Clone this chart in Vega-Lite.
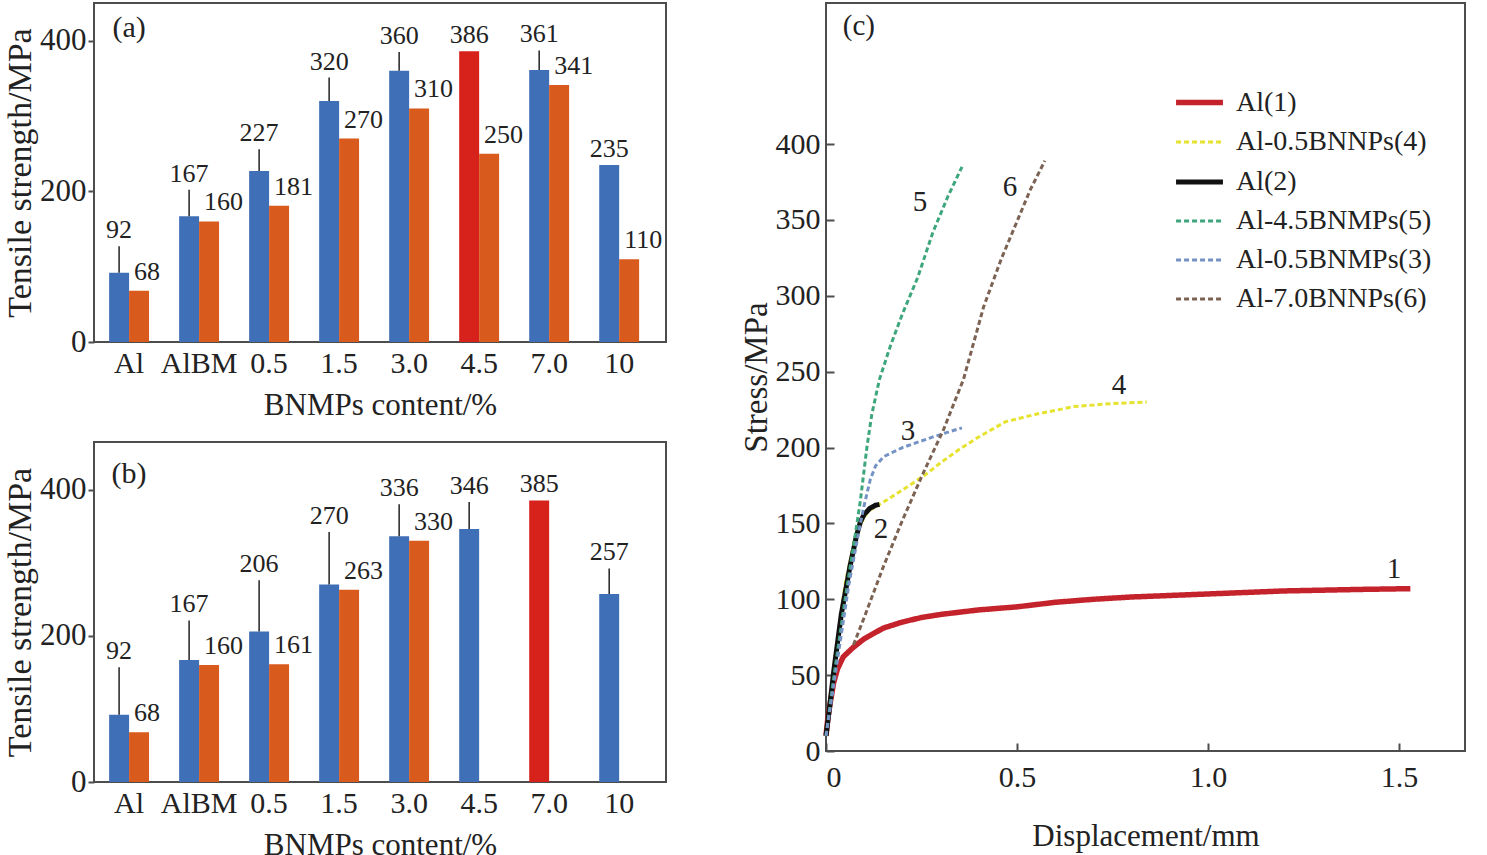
{
  "$schema": "https://vega.github.io/schema/vega-lite/v6.json",
  "padding": {"top": 2, "left": 2, "right": 5, "bottom": 0},
  "background": "white",
  "datasets": {
    "tensile": [
      {"panel": "a", "content": "Al", "series": "1", "peak": false, "value": 92, "upper": 127},
      {"panel": "a", "content": "Al", "series": "2", "peak": false, "value": 68, "upper": 68},
      {"panel": "a", "content": "AlBM", "series": "1", "peak": false, "value": 167, "upper": 202},
      {"panel": "a", "content": "AlBM", "series": "2", "peak": false, "value": 160, "upper": 160},
      {"panel": "a", "content": "0.5", "series": "1", "peak": false, "value": 227, "upper": 256},
      {"panel": "a", "content": "0.5", "series": "2", "peak": false, "value": 181, "upper": 181},
      {"panel": "a", "content": "1.5", "series": "1", "peak": false, "value": 320, "upper": 351},
      {"panel": "a", "content": "1.5", "series": "2", "peak": false, "value": 270, "upper": 270},
      {"panel": "a", "content": "3.0", "series": "1", "peak": false, "value": 360, "upper": 385},
      {"panel": "a", "content": "3.0", "series": "2", "peak": false, "value": 310, "upper": 310},
      {"panel": "a", "content": "4.5", "series": "1", "peak": true, "value": 386, "upper": 386},
      {"panel": "a", "content": "4.5", "series": "2", "peak": false, "value": 250, "upper": 250},
      {"panel": "a", "content": "7.0", "series": "1", "peak": false, "value": 361, "upper": 387},
      {"panel": "a", "content": "7.0", "series": "2", "peak": false, "value": 341, "upper": 341},
      {"panel": "a", "content": "10", "series": "1", "peak": false, "value": 235, "upper": 235},
      {"panel": "a", "content": "10", "series": "2", "peak": false, "value": 110, "upper": 110},
      {"panel": "b", "content": "Al", "series": "1", "peak": false, "value": 92, "upper": 157},
      {"panel": "b", "content": "Al", "series": "2", "peak": false, "value": 68, "upper": 68},
      {"panel": "b", "content": "AlBM", "series": "1", "peak": false, "value": 167, "upper": 221},
      {"panel": "b", "content": "AlBM", "series": "2", "peak": false, "value": 160, "upper": 160},
      {"panel": "b", "content": "0.5", "series": "1", "peak": false, "value": 206, "upper": 276},
      {"panel": "b", "content": "0.5", "series": "2", "peak": false, "value": 161, "upper": 161},
      {"panel": "b", "content": "1.5", "series": "1", "peak": false, "value": 270, "upper": 342},
      {"panel": "b", "content": "1.5", "series": "2", "peak": false, "value": 263, "upper": 263},
      {"panel": "b", "content": "3.0", "series": "1", "peak": false, "value": 336, "upper": 380},
      {"panel": "b", "content": "3.0", "series": "2", "peak": false, "value": 330, "upper": 330},
      {"panel": "b", "content": "4.5", "series": "1", "peak": false, "value": 346, "upper": 383},
      {"panel": "b", "content": "7.0", "series": "1", "peak": true, "value": 385, "upper": 385},
      {"panel": "b", "content": "10", "series": "1", "peak": false, "value": 257, "upper": 292}
    ],
    "curves": [
      {"series": "Al(1)", "x": 0, "y": 10},
      {"series": "Al(1)", "x": 0.005, "y": 22},
      {"series": "Al(1)", "x": 0.01, "y": 30},
      {"series": "Al(1)", "x": 0.02, "y": 45},
      {"series": "Al(1)", "x": 0.03, "y": 54},
      {"series": "Al(1)", "x": 0.045, "y": 62},
      {"series": "Al(1)", "x": 0.07, "y": 68},
      {"series": "Al(1)", "x": 0.1, "y": 74},
      {"series": "Al(1)", "x": 0.15, "y": 81},
      {"series": "Al(1)", "x": 0.2, "y": 85},
      {"series": "Al(1)", "x": 0.25, "y": 88},
      {"series": "Al(1)", "x": 0.3, "y": 90},
      {"series": "Al(1)", "x": 0.4, "y": 93},
      {"series": "Al(1)", "x": 0.5, "y": 95},
      {"series": "Al(1)", "x": 0.6, "y": 98},
      {"series": "Al(1)", "x": 0.7, "y": 100},
      {"series": "Al(1)", "x": 0.8, "y": 101.5},
      {"series": "Al(1)", "x": 0.9, "y": 102.5},
      {"series": "Al(1)", "x": 1.0, "y": 103.5},
      {"series": "Al(1)", "x": 1.1, "y": 104.5},
      {"series": "Al(1)", "x": 1.2, "y": 105.5},
      {"series": "Al(1)", "x": 1.3, "y": 106},
      {"series": "Al(1)", "x": 1.4, "y": 106.5},
      {"series": "Al(1)", "x": 1.53, "y": 107},
      {"series": "Al-0.5BNNPs(4)", "x": 0, "y": 10},
      {"series": "Al-0.5BNNPs(4)", "x": 0.02, "y": 55},
      {"series": "Al-0.5BNNPs(4)", "x": 0.05, "y": 110},
      {"series": "Al-0.5BNNPs(4)", "x": 0.08, "y": 145},
      {"series": "Al-0.5BNNPs(4)", "x": 0.11, "y": 158},
      {"series": "Al-0.5BNNPs(4)", "x": 0.15, "y": 164},
      {"series": "Al-0.5BNNPs(4)", "x": 0.2, "y": 172},
      {"series": "Al-0.5BNNPs(4)", "x": 0.26, "y": 182},
      {"series": "Al-0.5BNNPs(4)", "x": 0.3, "y": 190},
      {"series": "Al-0.5BNNPs(4)", "x": 0.35, "y": 199},
      {"series": "Al-0.5BNNPs(4)", "x": 0.4, "y": 207},
      {"series": "Al-0.5BNNPs(4)", "x": 0.47, "y": 217},
      {"series": "Al-0.5BNNPs(4)", "x": 0.55, "y": 222},
      {"series": "Al-0.5BNNPs(4)", "x": 0.65, "y": 227},
      {"series": "Al-0.5BNNPs(4)", "x": 0.75, "y": 229},
      {"series": "Al-0.5BNNPs(4)", "x": 0.84, "y": 230},
      {"series": "Al(2)", "x": 0, "y": 10},
      {"series": "Al(2)", "x": 0.01, "y": 30},
      {"series": "Al(2)", "x": 0.02, "y": 52},
      {"series": "Al(2)", "x": 0.04, "y": 90},
      {"series": "Al(2)", "x": 0.063, "y": 122},
      {"series": "Al(2)", "x": 0.08, "y": 142},
      {"series": "Al(2)", "x": 0.09, "y": 151},
      {"series": "Al(2)", "x": 0.1, "y": 156},
      {"series": "Al(2)", "x": 0.115, "y": 160},
      {"series": "Al(2)", "x": 0.13, "y": 162},
      {"series": "Al(2)", "x": 0.14, "y": 162.5},
      {"series": "Al-4.5BNMPs(5)", "x": 0, "y": 10},
      {"series": "Al-4.5BNMPs(5)", "x": 0.02, "y": 48},
      {"series": "Al-4.5BNMPs(5)", "x": 0.05, "y": 100},
      {"series": "Al-4.5BNMPs(5)", "x": 0.075, "y": 140},
      {"series": "Al-4.5BNMPs(5)", "x": 0.09, "y": 165},
      {"series": "Al-4.5BNMPs(5)", "x": 0.107, "y": 200},
      {"series": "Al-4.5BNMPs(5)", "x": 0.12, "y": 222},
      {"series": "Al-4.5BNMPs(5)", "x": 0.14, "y": 245},
      {"series": "Al-4.5BNMPs(5)", "x": 0.17, "y": 268},
      {"series": "Al-4.5BNMPs(5)", "x": 0.2, "y": 288},
      {"series": "Al-4.5BNMPs(5)", "x": 0.24, "y": 312},
      {"series": "Al-4.5BNMPs(5)", "x": 0.28, "y": 342},
      {"series": "Al-4.5BNMPs(5)", "x": 0.32, "y": 366},
      {"series": "Al-4.5BNMPs(5)", "x": 0.356, "y": 385},
      {"series": "Al-0.5BNMPs(3)", "x": 0, "y": 10},
      {"series": "Al-0.5BNMPs(3)", "x": 0.03, "y": 60},
      {"series": "Al-0.5BNMPs(3)", "x": 0.06, "y": 110},
      {"series": "Al-0.5BNMPs(3)", "x": 0.09, "y": 150},
      {"series": "Al-0.5BNMPs(3)", "x": 0.1, "y": 162},
      {"series": "Al-0.5BNMPs(3)", "x": 0.116, "y": 179},
      {"series": "Al-0.5BNMPs(3)", "x": 0.13, "y": 188},
      {"series": "Al-0.5BNMPs(3)", "x": 0.151, "y": 194},
      {"series": "Al-0.5BNMPs(3)", "x": 0.2, "y": 200},
      {"series": "Al-0.5BNMPs(3)", "x": 0.28, "y": 207},
      {"series": "Al-0.5BNMPs(3)", "x": 0.356, "y": 213},
      {"series": "Al-7.0BNNPs(6)", "x": 0.072, "y": 70},
      {"series": "Al-7.0BNNPs(6)", "x": 0.1, "y": 88},
      {"series": "Al-7.0BNNPs(6)", "x": 0.151, "y": 122},
      {"series": "Al-7.0BNNPs(6)", "x": 0.2, "y": 152},
      {"series": "Al-7.0BNNPs(6)", "x": 0.256, "y": 184},
      {"series": "Al-7.0BNNPs(6)", "x": 0.308, "y": 212},
      {"series": "Al-7.0BNNPs(6)", "x": 0.36, "y": 245},
      {"series": "Al-7.0BNNPs(6)", "x": 0.413, "y": 293},
      {"series": "Al-7.0BNNPs(6)", "x": 0.46, "y": 325},
      {"series": "Al-7.0BNNPs(6)", "x": 0.5, "y": 349},
      {"series": "Al-7.0BNNPs(6)", "x": 0.535, "y": 370},
      {"series": "Al-7.0BNNPs(6)", "x": 0.573, "y": 389}
    ],
    "curveLabels": [
      {"label": "1", "x": 1.487, "y": 120},
      {"label": "2", "x": 0.144, "y": 146},
      {"label": "3", "x": 0.215, "y": 211},
      {"label": "4", "x": 0.767, "y": 241},
      {"label": "5", "x": 0.246, "y": 362},
      {"label": "6", "x": 0.482, "y": 372},
      {"label": "(c)", "x": 0.086, "y": 478}
    ]
  },
  "resolve": {
    "scale": {"color": "independent", "strokeDash": "independent", "strokeWidth": "independent"},
    "legend": {"color": "independent", "strokeDash": "independent", "strokeWidth": "independent"}
  },
  "hconcat": [
    {
      "vconcat": [
        {
          "width": 572,
          "height": 339,
          "data": {"name": "tensile"},
          "transform": [{"filter": "datum.panel === 'a'"}],
          "encoding": {
            "x": {
              "field": "content",
              "type": "nominal",
              "scale": {"domain": ["Al", "AlBM", "0.5", "1.5", "3.0", "4.5", "7.0", "10"], "paddingInner": 0.43, "paddingOuter": 0.3, "align": 0.36},
              "axis": {"labelAngle": 0, "ticks": false, "labelPadding": 6, "labelFontSize": 30, "titleFontSize": 31, "titlePadding": 12},
              "title": "BNMPs content/%"
            },
            "xOffset": {"field": "series", "type": "nominal", "scale": {"domain": ["1", "2"], "paddingInner": 0}},
            "y": {
              "field": "value",
              "type": "quantitative",
              "scale": {"domain": [0, 450], "nice": false},
              "axis": {"values": [0, 200, 400], "tickSize": 6, "labelPadding": 2, "labelFontSize": 31, "titleFontSize": 34, "titlePadding": 2},
              "title": "Tensile strength/MPa"
            }
          },
          "layer": [
            {
              "mark": {"type": "bar"},
              "encoding": {
                "color": {
                  "condition": {"test": "datum.peak", "value": "#d6221b"},
                  "field": "series",
                  "type": "nominal",
                  "scale": {"domain": ["1", "2"], "range": ["#3f6fb6", "#d85a1c"]},
                  "legend": null
                }
              }
            },
            {
              "transform": [{"filter": "datum.upper > datum.value"}],
              "mark": {"type": "rule", "color": "#222", "strokeWidth": 1.5},
              "encoding": {"y2": {"field": "upper"}}
            },
            {
              "transform": [{"filter": "datum.series === '1'"}],
              "mark": {"type": "text", "baseline": "middle", "dy": -16, "fontSize": 26},
              "encoding": {"y": {"field": "upper", "type": "quantitative"}, "text": {"field": "value", "type": "quantitative"}}
            },
            {
              "transform": [{"filter": "datum.series === '2'"}],
              "mark": {"type": "text", "baseline": "middle", "align": "left", "dx": -5, "dy": -19, "fontSize": 26},
              "encoding": {"text": {"field": "value", "type": "quantitative"}}
            },
            {
              "data": {"values": [{"tag": "(a)", "content": "Al", "value": 417}]},
              "mark": {"type": "text", "baseline": "middle", "fontSize": 30},
              "encoding": {"xOffset": null, "text": {"field": "tag"}}
            }
          ]
        },
        {
          "width": 572,
          "height": 340,
          "data": {"name": "tensile"},
          "transform": [{"filter": "datum.panel === 'b'"}],
          "encoding": {
            "x": {
              "field": "content",
              "type": "nominal",
              "scale": {"domain": ["Al", "AlBM", "0.5", "1.5", "3.0", "4.5", "7.0", "10"], "paddingInner": 0.43, "paddingOuter": 0.3, "align": 0.36},
              "axis": {"labelAngle": 0, "ticks": false, "labelPadding": 6, "labelFontSize": 30, "titleFontSize": 31, "titlePadding": 12},
              "title": "BNMPs content/%"
            },
            "xOffset": {"field": "series", "type": "nominal", "scale": {"domain": ["1", "2"], "paddingInner": 0}},
            "y": {
              "field": "value",
              "type": "quantitative",
              "scale": {"domain": [0, 465], "nice": false},
              "axis": {"values": [0, 200, 400], "tickSize": 6, "labelPadding": 2, "labelFontSize": 31, "titleFontSize": 34, "titlePadding": 2},
              "title": "Tensile strength/MPa"
            }
          },
          "layer": [
            {
              "mark": {"type": "bar"},
              "encoding": {
                "color": {
                  "condition": {"test": "datum.peak", "value": "#d6221b"},
                  "field": "series",
                  "type": "nominal",
                  "scale": {"domain": ["1", "2"], "range": ["#3f6fb6", "#d85a1c"]},
                  "legend": null
                }
              }
            },
            {
              "transform": [{"filter": "datum.upper > datum.value"}],
              "mark": {"type": "rule", "color": "#222", "strokeWidth": 1.5},
              "encoding": {"y2": {"field": "upper"}}
            },
            {
              "transform": [{"filter": "datum.series === '1'"}],
              "mark": {"type": "text", "baseline": "middle", "dy": -16, "fontSize": 26},
              "encoding": {"y": {"field": "upper", "type": "quantitative"}, "text": {"field": "value", "type": "quantitative"}}
            },
            {
              "transform": [{"filter": "datum.series === '2'"}],
              "mark": {"type": "text", "baseline": "middle", "align": "left", "dx": -5, "dy": -19, "fontSize": 26},
              "encoding": {"text": {"field": "value", "type": "quantitative"}}
            },
            {
              "data": {"values": [{"tag": "(b)", "content": "Al", "value": 421}]},
              "mark": {"type": "text", "baseline": "middle", "fontSize": 30},
              "encoding": {"xOffset": null, "text": {"field": "tag"}}
            }
          ]
        }
      ]
    },
    {
      "width": 639,
      "height": 748,
      "layer": [
        {
          "data": {"name": "curves"},
          "mark": {"type": "line", "strokeCap": "butt"},
          "encoding": {
            "x": {
              "field": "x",
              "type": "quantitative",
              "scale": {"domain": [0, 1.673], "nice": false},
              "axis": {"values": [0, 0.5, 1.0, 1.5], "labelExpr": "datum.value === 0 ? '0' : format(datum.value, '.1f')", "tickSize": -8, "labelPadding": 19, "labelFontSize": 30, "titleFontSize": 31, "titlePadding": 29},
              "title": "Displacement/mm"
            },
            "y": {
              "field": "y",
              "type": "quantitative",
              "scale": {"domain": [0, 493], "nice": false},
              "axis": {"values": [0, 50, 100, 150, 200, 250, 300, 350, 400], "tickSize": -8, "labelPadding": 14, "labelFontSize": 30, "titleFontSize": 33, "titlePadding": 2},
              "title": "Stress/MPa"
            },
            "color": {
              "field": "series",
              "type": "nominal",
              "scale": {
                "domain": ["Al(1)", "Al-0.5BNNPs(4)", "Al(2)", "Al-4.5BNMPs(5)", "Al-0.5BNMPs(3)", "Al-7.0BNNPs(6)"],
                "range": ["#c4232b", "#e6e32e", "#111111", "#3ea67c", "#7592c4", "#7b6252"]
              },
              "legend": {
                "title": null,
                "orient": "none",
                "legendX": 347,
                "legendY": 73,
                "labelFontSize": 28,
                "labelFont": "Liberation Serif",
                "labelColor": "#222",
                "labelLimit": 0,
                "symbolType": "stroke",
                "symbolSize": 2200,
                "labelOffset": 10,
                "rowPadding": -3
              }
            },
            "strokeDash": {
              "field": "series",
              "type": "nominal",
              "scale": {
                "domain": ["Al(1)", "Al-0.5BNNPs(4)", "Al(2)", "Al-4.5BNMPs(5)", "Al-0.5BNMPs(3)", "Al-7.0BNNPs(6)"],
                "range": [[1, 0], [5, 3], [1, 0], [5, 3], [5, 3], [5, 3]]
              }
            },
            "strokeWidth": {
              "field": "series",
              "type": "nominal",
              "scale": {
                "type": "ordinal",
                "domain": ["Al(1)", "Al-0.5BNNPs(4)", "Al(2)", "Al-4.5BNMPs(5)", "Al-0.5BNMPs(3)", "Al-7.0BNNPs(6)"],
                "range": [5.5, 3, 5, 3, 3, 3]
              }
            }
          }
        },
        {
          "data": {"name": "curveLabels"},
          "mark": {"type": "text", "baseline": "middle", "fontSize": 29},
          "encoding": {
            "x": {"field": "x", "type": "quantitative"},
            "y": {"field": "y", "type": "quantitative"},
            "text": {"field": "label"}
          }
        }
      ]
    }
  ],
  "spacing": 72,
  "config": {
    "font": "Liberation Serif",
    "view": {"stroke": "#4d4d4d", "strokeWidth": 2},
    "concat": {"spacing": 20},
    "axis": {
      "labelFont": "Liberation Serif",
      "titleFont": "Liberation Serif",
      "labelColor": "#222",
      "titleColor": "#222",
      "titleFontWeight": "normal",
      "grid": false,
      "domain": false,
      "tickColor": "#4d4d4d",
      "tickWidth": 2
    },
    "text": {"font": "Liberation Serif", "color": "#222"}
  }
}
